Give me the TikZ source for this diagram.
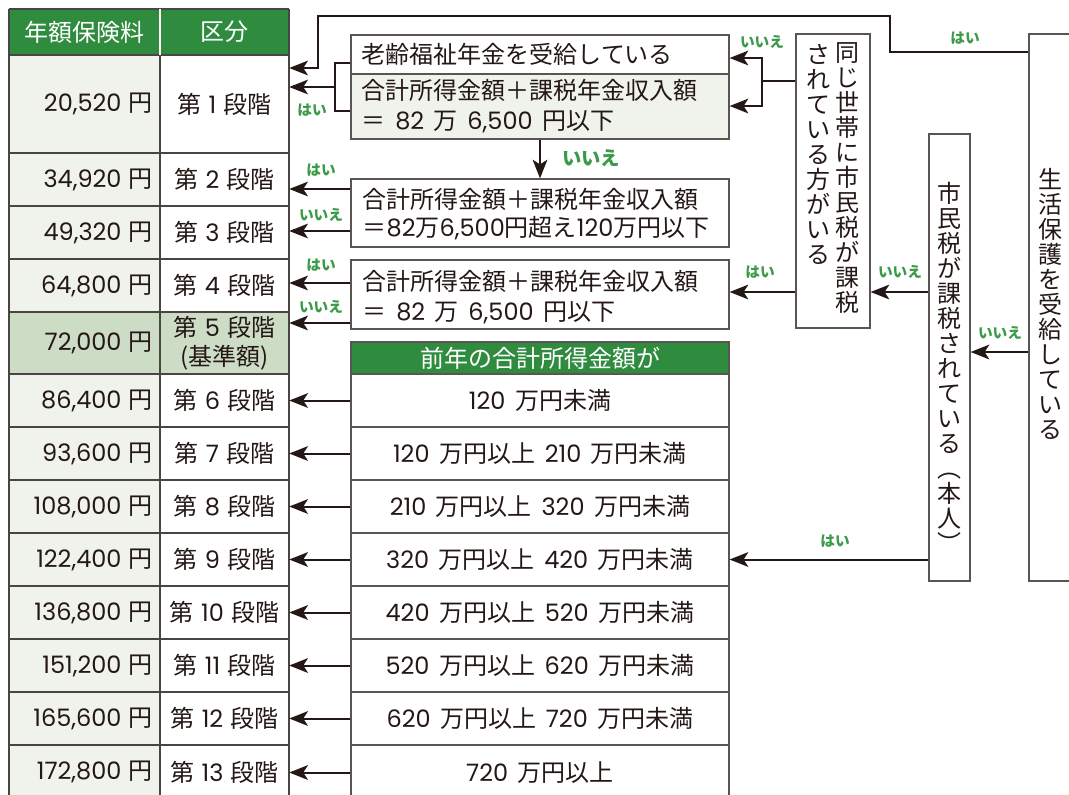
\documentclass[tikz,border=0pt]{standalone}
\usepackage{fontspec}
\setmainfont{Noto Sans CJK JP}
\newfontfamily\numf{Poppins}[Scale=1.0]
\newcommand{\nm}[1]{{\numf #1}}
\newcommand{\gp}{\hspace{0.4em}}
\newcommand{\gq}{\hspace{0.3em}}
\usetikzlibrary{arrows.meta,fit}
\definecolor{hgreen}{HTML}{2F8C3F}
\definecolor{lgreen}{HTML}{3A9A48}
\definecolor{cellbg}{HTML}{F0F2EC}
\definecolor{rowfive}{HTML}{CDDCC5}
\definecolor{ink}{HTML}{231815}
\definecolor{gridc}{HTML}{4A4543}
\definecolor{boxc}{HTML}{5A5552}
\tikzset{
  every node/.style={font=\fontsize{18}{22.5}\selectfont, text=ink},
  box/.style={draw=boxc, line width=0.9pt, inner sep=0pt},
  cellnode/.style={inner sep=0pt},
  ctext/.style={inner sep=0pt, align=center},
  gridline/.style={draw=gridc, line width=0.9pt},
  arr/.style={draw=ink, line width=1.5pt, -{Stealth[length=14pt,width=11pt,inset=3.5pt]}},
  conn/.style={draw=ink, line width=1.5pt},
  lab/.style={text=lgreen, font=\fontsize{11}{13}\selectfont\bfseries, inner sep=0pt},
  biglab/.style={text=lgreen, font=\fontsize{14.5}{16}\selectfont\bfseries, inner sep=0pt},
  vt/.style={align=center, anchor=north, inner sep=0pt, font=\fontsize{18}{18.75}\selectfont},
}
\begin{document}
\begin{tikzpicture}[x=0.75pt,y=-0.75pt]
\useasboundingbox (0,0) rectangle (1069,794);
\clip (0,0) rectangle (1069,794);

% ---------- left table ----------
\fill[hgreen] (9,9) rectangle (289,55);
\fill[cellbg] (9,55) rectangle (160,800);
\fill[rowfive] (9,312) rectangle (289,374);
\foreach \y in {55,153,206,259,312,374,427,480,533,586,639,692,745}
  \draw[gridline] (9,\y) -- (289,\y);
\draw[gridline] (9,9) -- (289,9);
\draw[gridline] (9,9) -- (9,800);
\draw[gridline] (289,9) -- (289,800);
\draw[gridline] (160,55) -- (160,800);
\draw[white, line width=1pt] (160,9) -- (160,55);
\node[text=white] (h1) at (84.5,32) {年額保険料};
\node[text=white] (h2) at (224.5,32) {区分};

\foreach \n/\yc/\amt in {
  1/104/{20,520}, 2/179.5/{34,920}, 3/232.5/{49,320}, 4/285.5/{64,800},
  5/343/{72,000}, 6/400.5/{86,400}, 7/453.5/{93,600}, 8/506.5/{108,000},
  9/559.5/{122,400}, 10/612.5/{136,800}, 11/665.5/{151,200},
  12/718.5/{165,600}, 13/772/{172,800}}
  \node[anchor=east, inner sep=0pt] (a\n) at (153,\yc) {\nm{\amt}\hspace{0.3em}円};

\foreach \n/\t/\b/\txt in {
  1/55/153/{第\gq\nm{1}\gq 段階}, 2/153/206/{第\gq\nm{2}\gq 段階}, 3/206/259/{第\gq\nm{3}\gq 段階},
  4/259/312/{第\gq\nm{4}\gq 段階}, 5/312/374/{第\gq\nm{5}\gq 段階\\[-1pt](基準額)}, 6/374/427/{第\gq\nm{6}\gq 段階},
  7/427/480/{第\gq\nm{7}\gq 段階}, 8/480/533/{第\gq\nm{8}\gq 段階}, 9/533/586/{第\gq\nm{9}\gq 段階},
  10/586/639/{第\gq\nm{10}\gq 段階}, 11/639/692/{第\gq\nm{11}\gq 段階}, 12/692/745/{第\gq\nm{12}\gq 段階},
  13/745/800/{第\gq\nm{13}\gq 段階}}
  {\node[cellnode, fit={(160,\t)(289,\b)}] (g\n) {};
   \node[ctext] (gt\n) at (224.5,{(\t+\b)/2}) {\txt};}

% ---------- middle boxes ----------
\node[box, fit={(351,35)(729,74)}] (A) {};
\node[anchor=west] (At) at (357,54.5) {老齢福祉年金を受給している};
\node[box, fill=cellbg, fit={(351,74)(729,139)}] (B) {};
\node[anchor=west, align=left] (Bt) at (357,106.5) {合計所得金額＋課税年金収入額\\＝\gp\nm{82}\gp 万\gp\nm{6,500}\gp 円以下};
\node[box, fit={(351,179)(729,247)}] (C) {};
\node[anchor=west, align=left, font=\fontsize{18}{21.5}\selectfont] (Ct) at (358,214) {合計所得金額＋課税年金収入額\\＝\nm{82}万\nm{6,500}円超え\nm{120}万円以下};
\node[box, fit={(351,260)(729,329)}] (D) {};
\node[anchor=west, align=left] (Dt) at (358,297) {合計所得金額＋課税年金収入額\\＝\gp\nm{82}\gp 万\gp\nm{6,500}\gp 円以下};

% ---------- income table ----------
\node[box, fill=hgreen, fit={(351,342)(729,374)}] (EH) {};
\node[text=white] (EHt) at (540,358) {前年の合計所得金額が};
\foreach \n/\t/\b/\txt in {
  6/374/427/{\nm{120}\gp 万円未満}, 7/427/480/{\nm{120}\gp 万円以上\gp\nm{210}\gp 万円未満},
  8/480/533/{\nm{210}\gp 万円以上\gp\nm{320}\gp 万円未満}, 9/533/586/{\nm{320}\gp 万円以上\gp\nm{420}\gp 万円未満},
  10/586/639/{\nm{420}\gp 万円以上\gp\nm{520}\gp 万円未満}, 11/639/692/{\nm{520}\gp 万円以上\gp\nm{620}\gp 万円未満},
  12/692/745/{\nm{620}\gp 万円以上\gp\nm{720}\gp 万円未満}, 13/745/800/{\nm{720}\gp 万円以上}}
  {\node[box, fit={(351,\t)(729,\b)}] (e\n) {};
   \node[ctext] (et\n) at (540,{(\t+\b)/2}) {\txt};}

% ---------- vertical boxes ----------
\node[box, fit={(796,34)(870,328)}] (N) {};
\node[vt] (Nt1) at (847,42) {同\\じ\\世\\帯\\に\\市\\民\\税\\が\\課\\税};
\node[vt] (Nt2) at (818,44) {さ\\れ\\て\\い\\る\\方\\が\\い\\る};
\node[box, fit={(929,134)(970,581)}] (M) {};
\node[vt] (Mt) at (949.5,182) {市\\民\\税\\が\\課\\税\\さ\\れ\\て\\い\\る\\︵\\本\\人\\︶};
\node[box, fit={(1029,34)(1085,581)}] (S) {};
\node[vt] (St) at (1050,168) {生\\活\\保\\護\\を\\受\\給\\し\\て\\い\\る};

% ---------- connectors ----------
% top: 生活保護 yes -> 第1段階
\coordinate (tp1) at (890,52);
\coordinate (tp2) at (890,16);
\coordinate (tp3) at (318,16);
\coordinate (tp4) at (318,68);
\draw[arr] (S.west |- tp1) -- (tp1) -- (tp2) -- (tp3) -- (tp4) -- (g1.east |- tp4);
\node[lab] (l1) at (965,38) {はい};

% 同じ世帯 no -> A / B
\coordinate (rb) at (762,81);
\draw[conn] (N.west |- rb) -- (rb);
\draw[arr] (rb) |- (A.east |- 0,58);
\draw[arr] (rb) |- (B.east |- 0,106);
\node[lab] (l2) at (762,42) {いいえ};

% A / B yes -> 第1段階
\coordinate (lb) at (335,87);
\draw[conn] (A.west |- 0,63) -| (lb |- 0,111) -- (B.west |- 0,111);
\draw[arr] (lb) -- (g1.east |- lb);
\node[lab] (l3) at (312,110) {はい};

% B no -> C
\draw[arr] (B.south) -- (C.north);
\node[biglab] (l4) at (591,158) {いいえ};

% C -> 2, 3
\draw[arr] (C.west |- 0,189) -- (g2.east |- 0,189);
\draw[arr] (C.west |- 0,231) -- (g3.east |- 0,231);
\node[lab] (l5) at (321,170) {はい};
\node[lab] (l6) at (321,215) {いいえ};

% D -> 4, 5
\draw[arr] (D.west |- 0,283) -- (g4.east |- 0,283);
\draw[arr] (D.west |- 0,323) -- (g5.east |- 0,323);
\node[lab] (l7) at (321,265) {はい};
\node[lab] (l8) at (321,307) {いいえ};

% N yes -> D ; M no -> N ; S no -> M
\draw[arr] (N.west |- 0,292) -- (D.east |- 0,292);
\node[lab] (l9) at (760,272) {はい};
\draw[arr] (M.west |- 0,292) -- (N.east |- 0,292);
\node[lab] (l10) at (900,272) {いいえ};
\draw[arr] (S.west |- 0,352) -- (M.east |- 0,352);
\node[lab] (l11) at (1000,333) {いいえ};

% M yes -> 320-420 row
\draw[arr] (M.west |- e9.east) -- (e9.east);
\node[lab] (l12) at (835,541) {はい};

% income rows -> grades
\foreach \n in {6,...,13}
  \draw[arr] (e\n.west) -- (g\n.east);
\end{tikzpicture}
\end{document}
